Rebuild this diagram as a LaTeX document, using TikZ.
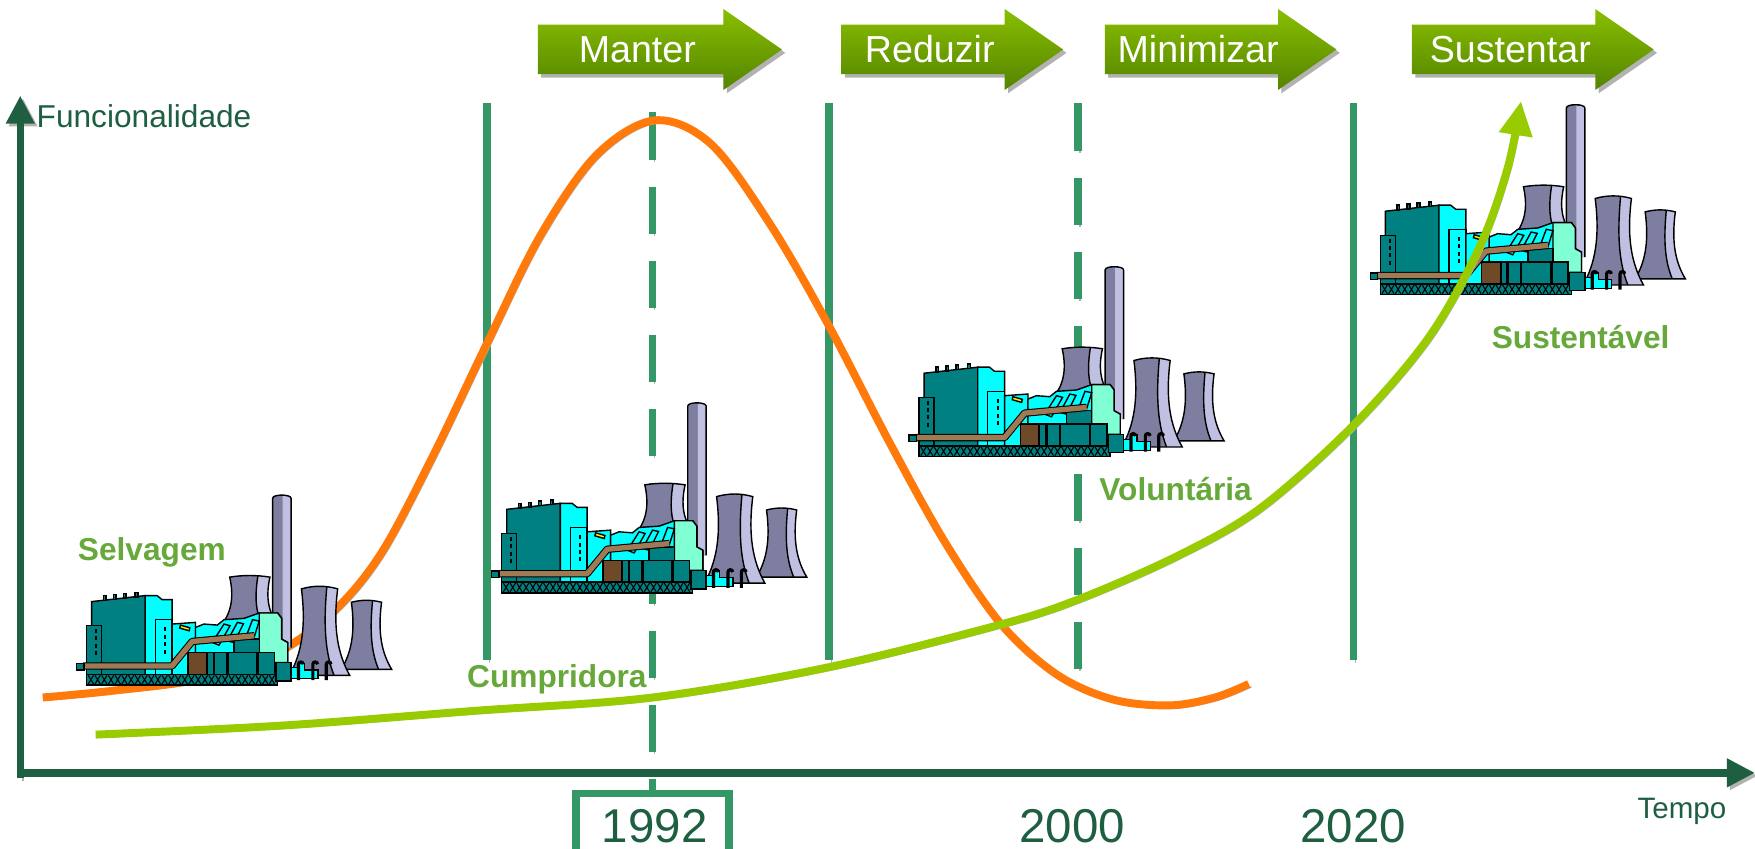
\documentclass[tikz,border=0pt]{standalone}
\usepackage{fontspec}
\setmainfont{Liberation Sans}
\usetikzlibrary{positioning, arrows.meta}
\usepackage{xcolor}

\definecolor{axisgreen}{RGB}{30,95,65}
\definecolor{linegreen}{RGB}{52,152,102}
\definecolor{labelgreen}{RGB}{102,168,58}
\definecolor{limegreen}{RGB}{153,204,0}
\definecolor{curveorange}{RGB}{255,122,10}
\definecolor{arrowtop}{RGB}{136,190,0}
\definecolor{arrowbot}{RGB}{84,132,0}
\definecolor{towerdark}{RGB}{126,126,160}
\definecolor{towerlight}{RGB}{192,192,226}
\definecolor{plantteal}{RGB}{0,128,128}
\definecolor{plantcyan}{RGB}{0,255,255}
\definecolor{plantaqua}{RGB}{128,255,212}
\definecolor{pipebrown}{RGB}{160,122,84}
\definecolor{doorbrown}{RGB}{110,74,40}

\newcommand{\coolingtower}[4]{%
\begin{scope}[shift={(#1,#2)}, xscale=#3, yscale=#4]
\fill[towerdark] (-0.3,0) .. controls (-0.22,0.45) and (-0.3,0.75) .. (-0.5,1) -- (0.5,1) .. controls (0.3,0.75) and (0.22,0.45) .. (0.3,0) .. controls (0.1,-0.04) and (-0.1,-0.04) .. (-0.3,0) -- cycle;
\fill[towerlight] (0.12,-0.02) .. controls (0.2,-0.02) and (0.26,-0.01) .. (0.3,0) .. controls (0.22,0.45) and (0.3,0.75) .. (0.5,1) -- (0.24,1) .. controls (0.1,0.75) and (0.06,0.45) .. (0.12,-0.02) -- cycle;
\draw[plantline] (-0.3,0) .. controls (-0.22,0.45) and (-0.3,0.75) .. (-0.5,1) -- (0.5,1) .. controls (0.3,0.75) and (0.22,0.45) .. (0.3,0) .. controls (0.1,-0.04) and (-0.1,-0.04) .. (-0.3,0) -- cycle;
\draw[plantline] (0.12,-0.02) .. controls (0.06,0.45) and (0.1,0.75) .. (0.24,1);
\end{scope}}

\tikzset{
plantline/.style={draw=black, line width=0.4pt},
plant/.pic={
\begin{scope}[scale=0.298]
\coolingtower{517}{245}{200}{160}
\fill[towerdark] (585,455) -- (585,10) .. controls (585,-3) and (640,-3) .. (640,10) -- (640,455) -- cycle;
\fill[towerlight] (615,3) .. controls (632,4) and (640,6) .. (640,10) -- (640,455) -- (615,455) -- cycle;
\draw[plantline] (585,455) -- (585,10) .. controls (585,-3) and (640,-3) .. (640,10) -- (640,455);
\coolingtower{865}{320}{150}{200}
\coolingtower{725}{280}{180}{258}
\filldraw[plantline, fill=plantteal] (45,318) -- (205,300) -- (205,545) -- (45,545) -- cycle;
\foreach \sx/\sy in {80/314, 110/311, 140/307, 175/304}
  \filldraw[plantline, fill=plantteal] (\sx,\sy) rectangle ++(8,-14);
\filldraw[plantline, fill=plantteal] (30,390) rectangle (75,545);
\foreach \wy in {400,422,444,466}
  \fill[black] (55,\wy) rectangle ++(6,12);
\filldraw[plantline, fill=plantcyan] (205,300) -- (240,300) -- (255,312) -- (285,312) -- (285,545) -- (205,545) -- cycle;
\filldraw[plantline, fill=plantcyan] (235,372) rectangle (285,545);
\foreach \wy in {395,417,439,461}
  \fill[black] (262,\wy) rectangle ++(6,12);
\filldraw[plantline, fill=plantcyan] (285,385) -- (355,380) -- (355,545) -- (285,545) -- cycle;
\filldraw[plantline, fill=yellow] (310,388) -- (338,396) -- (336,405) -- (308,397) -- cycle;
\filldraw[plantline, fill=plantcyan] (355,395) -- (380,385) -- (420,388) -- (440,372) -- (500,368) -- (545,352) -- (600,352) -- (612,368) -- (612,430) -- (630,440) -- (630,545) -- (355,545) -- cycle;
\filldraw[plantline, fill=plantaqua] (545,352) -- (600,352) -- (612,368) -- (612,430) -- (630,440) -- (630,500) -- (545,500) -- cycle;
\filldraw[plantline, fill=plantcyan] (405,440) -- (440,385) -- (458,390) -- (425,448) -- cycle;
\filldraw[plantline, fill=plantcyan] (450,435) -- (480,380) -- (498,384) -- (470,440) -- cycle;
\filldraw[plantline, fill=plantcyan] (505,425) -- (525,372) -- (545,376) -- (528,430) -- cycle;
\filldraw[plantline, fill=plantteal] (390,470) rectangle (590,545);
\filldraw[plantline, fill=plantteal] (470,430) rectangle (545,470);
\draw[black, line width=2.1pt, line join=round] (20,510) -- (285,510) -- (345,437) -- (530,420);
\draw[pipebrown, line width=1.5pt, line join=round] (20,510) -- (285,510) -- (345,437) -- (530,420);
\filldraw[plantline, fill=plantteal] (0,502) rectangle (22,522);
\filldraw[plantline, fill=doorbrown] (332,470) rectangle (388,555);
\draw[plantline, line width=0.7pt] (410,470) -- (410,562) (450,470) -- (450,562) (540,470) -- (540,562);
\filldraw[plantline, fill=plantteal] (30,535) rectangle (600,567);
\foreach \i in {0,...,27}
  \draw[black, line width=0.3pt] ({35+\i*20},538) -- ++(16,26) ++(-16,0) -- ++(16,-26);
\filldraw[plantline, fill=plantteal] (595,500) rectangle (640,555);
\filldraw[plantline, fill=plantcyan] (640,515) -- (660,515) -- (660,502) -- (680,502) -- (680,522) -- (720,522) -- (720,548) -- (640,548) -- cycle;
\foreach \hx in {662,705,745}
  \draw[black, line width=0.9pt] (\hx,552) -- (\hx,505) arc (180:360:7);
\end{scope}
}}

\begin{document}
\begin{tikzpicture}[x=0.01125cm, y=-0.01125cm]

\tikzstyle{dropshade} = [preaction={draw=black!30, transform canvas={shift={(2.5,2.5)}}}]
\tikzstyle{axisline} = [draw=axisgreen, line width=0.073cm, dropshade, -{Triangle[length=0.28cm, width=0.27cm]}]
\tikzstyle{divider} = [draw=linegreen, line width=0.075cm, preaction={draw=black!30, transform canvas={shift={(2,2)}}}]
\tikzstyle{dashdivider} = [draw=linegreen, line width=0.075cm, dash pattern=on 0.47cm off 0.27cm, preaction={draw=black!30, dash pattern=on 0.47cm off 0.27cm, transform canvas={shift={(2,2)}}}]
\tikzstyle{phasetext} = [text=white, font=\fontsize{10.7}{12}\selectfont]
\tikzstyle{stage} = [text=labelgreen, font=\fontsize{9}{11}\selectfont\bfseries]
\tikzstyle{year} = [text=axisgreen, font=\fontsize{13.5}{16}\selectfont]

\useasboundingbox[fill=white] (0,0) rectangle (1560,754.67);

\foreach \name/\xa/\xb/\txt in {manter/478/695/Manter, reduzir/748/945/Reduzir, minimizar/982/1188/Minimizar, sustentar/1255/1470/Sustentar}{
  \fill[black!30] ({\xa+3},25) -- ({\xb-49},25) -- ({\xb-49},11) -- ({\xb+3},47) -- ({\xb-49},83) -- ({\xb-49},69) -- ({\xa+3},69) -- cycle;
  \shade[top color=arrowtop, bottom color=arrowbot] (\xa,22) -- ({\xb-52},22) -- ({\xb-52},8) -- (\xb,44) -- ({\xb-52},80) -- ({\xb-52},66) -- (\xa,66) -- cycle;
  \node[phasetext] (\name) at ({(\xa+\xb-40)/2},44) {\txt};
}

\coordinate (origin) at (18,690);
\draw[axisline] (18,692) -- (18,85) coordinate (ytop);
\draw[axisline] (15,687) -- (1560,687) coordinate (xend);
\node[anchor=west, inner sep=0pt, text=axisgreen, font=\fontsize{9}{11}\selectfont] (func) at (32,103) {Funcionalidade};
\node[text=axisgreen, font=\fontsize{8.4}{10}\selectfont] (tempo) at (1495,721) {Tempo};

\draw[divider] (433,92) -- (433,587);
\draw[divider] (737,92) -- (737,587);
\draw[divider] (1203,92) -- (1203,587);
\draw[dashdivider] (580,100) -- (580,705);
\draw[dashdivider] (958,92) -- (958,600);

\draw[curveorange, line width=0.079cm, dropshade] plot[smooth, tension=0.55] coordinates {(38,620) (100,614) (180,603) (250,578) (300,540) (340,490) (385,405) (433,305) (480,210) (530,138) (582,107) (632,128) (685,200) (737,290) (790,392) (840,482) (890,555) (940,600) (990,622) (1040,627) (1080,620) (1110,608)};

\pic at (68,440) {plant};
\pic at (437,358) {plant};
\pic at (808,237) {plant};
\pic at (1218,93) {plant};

\draw[limegreen, line width=0.079cm, dropshade, -{Triangle[length=0.34cm, width=0.32cm]}] plot[smooth, tension=0.55] coordinates {(85,653) (250,645) (420,632) (580,620) (737,593) (890,555) (958,533) (1045,495) (1120,452) (1203,378) (1270,300) (1315,220) (1340,150) (1352,90)};

\node[stage] (selvagem) at (135,491) {Selvagem};
\node[stage] (cumpridora) at (495,604) {Cumpridora};
\node[stage] (voluntaria) at (1045,435) {Voluntária};
\node[stage] (sustentavel) at (1405,300) {Sustentável};

\node[year] (y1992) at (582,734) {1992};
\node[year] (y2000) at (953,734) {2000};
\node[year] (y2020) at (1203,734) {2020};
\draw[linegreen, line width=0.072cm] (512,780) -- (512,705) -- (648,705) -- (648,780);

\end{tikzpicture}
\end{document}
